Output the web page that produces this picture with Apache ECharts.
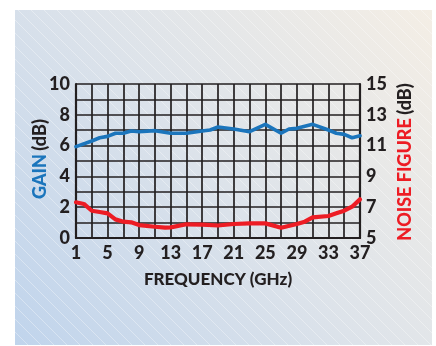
<!DOCTYPE html>
<html>
<head>
<meta charset="utf-8">
<script src="https://cdn.jsdelivr.net/npm/echarts@6/dist/echarts.min.js"></script>
<style>
  html, body { margin: 0; padding: 0; background: #ffffff; }
  #chart { width: 436px; height: 346px; }
</style>
</head>
<body>
<div id="chart"></div>
<script>
// Frequency (GHz) and measured gain (dB)
const gainFreq = [1, 3, 4, 5, 6, 7, 8, 9, 11, 13, 15, 17, 18, 19, 21, 23, 25, 27, 28, 29, 31, 33, 34, 35, 36, 37];
const gainDb   = [5.93, 6.3, 6.51, 6.6, 6.8, 6.8, 6.95, 6.9, 6.97, 6.8, 6.8, 6.95, 7.01, 7.21, 7.08, 6.9, 7.38, 6.8, 7.08, 7.12, 7.38, 7.01, 6.8, 6.73, 6.51, 6.64];

// Frequency (GHz) and noise figure (dB)
const nfFreq = [1, 2, 3, 4, 5, 6, 7, 8, 9, 11, 12.3, 13, 15, 17, 19, 21, 23, 25, 27, 29, 30, 31, 33, 34, 35, 36, 37];
const nfDb   = [7.32, 7.21, 6.77, 6.69, 6.6, 6.21, 6.06, 6.02, 5.84, 5.73, 5.67, 5.69, 5.89, 5.87, 5.81, 5.91, 5.95, 5.95, 5.67, 5.91, 6.06, 6.34, 6.43, 6.6, 6.77, 7.03, 7.51];

// Axis ranges and labelled ticks
const freqRange = [1, 37];
const freqLabels = [1, 5, 9, 13, 17, 21, 25, 29, 33, 37];
const gainRange = [0, 10];
const gainLabels = [0, 2, 4, 6, 8, 10];
const nfRange = [5, 15];
const nfLabels = [5, 7, 9, 11, 13, 15];

const FONT = 'Lato, "Open Sans", "DejaVu Sans", sans-serif';
const INK = '#231f20';
const BLUE = '#1b75bc';
const RED = '#ed1c24';

const chart = echarts.init(document.getElementById('chart'), null, { renderer: 'canvas' });

// Faint diagonal hatching across the backdrop panel
const panel = { x: 15, y: 10, w: 417, h: 335 };
const hatch = [];
for (let k = -panel.h; k < panel.w; k += 13) {
  hatch.push({
    type: 'line',
    shape: { x1: panel.x + k, y1: panel.y, x2: panel.x + k + panel.h, y2: panel.y + panel.h },
    style: { stroke: 'rgba(255,255,255,0.35)', lineWidth: 1 },
    silent: true
  });
}

const labelStyle = { color: INK, fontFamily: FONT, fontWeight: 900, fontSize: 18 };

// Vertical axis titles, two-coloured, reading bottom to top
function axisTitle(x, y, word, color) {
  return {
    type: 'text', x: x, y: y, rotation: Math.PI / 2, silent: true, z: 10,
    style: {
      text: '{a|' + word + '} {b|(dB)}',
      align: 'center', verticalAlign: 'middle',
      rich: {
        a: { fill: color, fontFamily: FONT, fontWeight: 900, fontSize: 18 },
        b: { fill: INK, fontFamily: FONT, fontWeight: 900, fontSize: 18 }
      }
    }
  };
}

chart.setOption({
  backgroundColor: '#ffffff',
  animation: false,
  graphic: [
    {
      type: 'group', z: -10, silent: true,
      clipPath: { type: 'rect', shape: { x: panel.x, y: panel.y, width: panel.w, height: panel.h } },
      children: [
        {
          type: 'rect',
          shape: { x: panel.x, y: panel.y, width: panel.w, height: panel.h },
          style: {
            fill: new echarts.graphic.LinearGradient(0, 1, 1, 0, [
              { offset: 0, color: '#c0d4ec' },
              { offset: 0.5, color: '#dde3ea' },
              { offset: 1, color: '#f4eee5' }
            ])
          }
        }
      ].concat(hatch)
    },
    axisTitle(40, 159, 'GAIN', BLUE),
    axisTitle(405, 162, 'NOISE FIGURE', RED)
  ],
  grid: {
    left: 76, right: 76, top: 84, bottom: 108,
    show: true, backgroundColor: '#ffffff', borderWidth: 0
  },
  xAxis: {
    type: 'value',
    min: freqRange[0], max: freqRange[1], interval: 2,
    name: 'FREQUENCY (GHz)',
    nameLocation: 'middle', nameGap: 33,
    nameTextStyle: { color: INK, fontFamily: FONT, fontWeight: 900, fontSize: 17 },
    axisLine: { show: true, lineStyle: { color: INK, width: 2.2 } },
    axisTick: { show: false },
    splitLine: { show: true, lineStyle: { color: INK, width: 1.7 } },
    axisLabel: Object.assign({}, labelStyle, {
      margin: 6,
      showMinLabel: true, showMaxLabel: true,
      formatter: v => (freqLabels.indexOf(v) >= 0 ? String(v) : '')
    })
  },
  yAxis: [
    {
      type: 'value',
      min: gainRange[0], max: gainRange[1], interval: 1,
      axisLine: { show: true, lineStyle: { color: INK, width: 2.2 } },
      axisTick: { show: false },
      splitLine: { show: true, lineStyle: { color: INK, width: 1.7 } },
      axisLabel: Object.assign({}, labelStyle, {
        margin: 6,
        formatter: v => (gainLabels.indexOf(v) >= 0 ? String(v) : '')
      })
    },
    {
      type: 'value',
      position: 'right',
      min: nfRange[0], max: nfRange[1], interval: 1,
      axisLine: { show: true, lineStyle: { color: INK, width: 2.2 } },
      axisTick: { show: false },
      splitLine: { show: false },
      axisLabel: Object.assign({}, labelStyle, {
        margin: 6,
        formatter: v => (nfLabels.indexOf(v) >= 0 ? String(v) : '')
      })
    }
  ],
  series: [
    {
      name: 'Gain',
      type: 'line',
      yAxisIndex: 0,
      data: gainFreq.map((f, i) => [f, gainDb[i]]),
      showSymbol: false,
      smooth: false,
      lineStyle: { color: BLUE, width: 3.6, cap: 'round', join: 'round' },
      z: 5
    },
    {
      name: 'Noise figure',
      type: 'line',
      yAxisIndex: 1,
      data: nfFreq.map((f, i) => [f, nfDb[i]]),
      showSymbol: false,
      smooth: false,
      lineStyle: { color: RED, width: 4.2, cap: 'round', join: 'round' },
      z: 5
    }
  ]
});
</script>
</body>
</html>
